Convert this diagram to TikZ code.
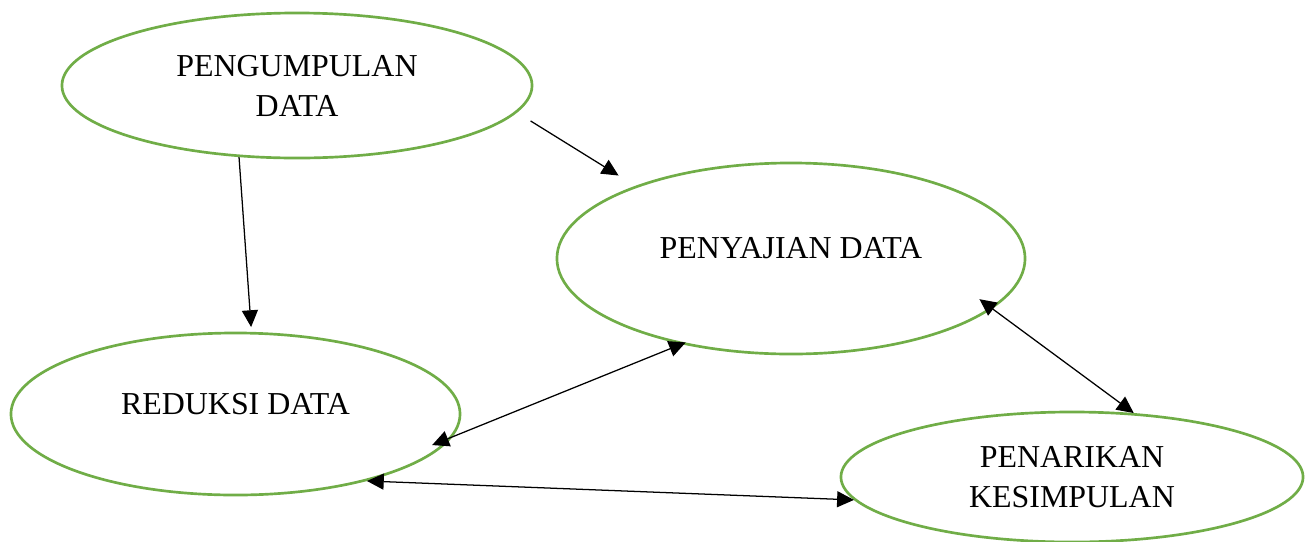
\documentclass[tikz,border=0pt]{standalone}
\usepackage{fontspec}
\setmainfont{Liberation Serif}
\usetikzlibrary{shapes.geometric,arrows.meta}
\definecolor{tahapgreen}{RGB}{112,173,71}

\begin{document}
\begin{tikzpicture}[x=0.025cm,y=-0.025cm,
    tahap/.style={ellipse,draw=tahapgreen,line width=1.9pt,inner sep=0pt,align=center,
      font=\fontsize{22.7}{28.45}\selectfont},
    naik/.style={text depth=0.525cm},
    panah/.style={-{Triangle[length=0.42cm,width=0.4cm]},line width=0.9pt},
    duapanah/.style={{Triangle[length=0.42cm,width=0.4cm]}-{Triangle[length=0.42cm,width=0.4cm]},line width=0.9pt}]
    \useasboundingbox (0,0) rectangle (1311,541);
    \node[tahap,minimum width=11.75cm,minimum height=3.625cm] (kumpul) at (297,85.5) {PENGUMPULAN\\DATA};
    \node[tahap,naik,minimum width=11.7cm,minimum height=4.775cm] (sajian) at (791,258.5) {PENYAJIAN DATA};
    \node[tahap,naik,minimum width=11.225cm,minimum height=4.05cm] (reduksi) at (235.5,414) {REDUKSI DATA};
    \node[tahap,minimum width=11.55cm,minimum height=3.25cm] (tarik) at (1072,477) {PENARIKAN\\KESIMPULAN};
    % alur
    \draw[panah,shorten >=0.12cm] (kumpul.231) -- (reduksi.79);
    \draw[panah,shorten <=0.4cm,shorten >=0.49cm] (kumpul.-7) -- (sajian.155);
    \draw[duapanah,shorten <=-0.55cm,shorten >=-0.12cm] (reduksi.-6) -- (sajian.218);
    \draw[duapanah,shorten <=-0.4cm] (sajian.-14) -- (tarik.46);
    \draw[duapanah] (reduksi.-27) -- (tarik.186);
\end{tikzpicture}
\end{document}
